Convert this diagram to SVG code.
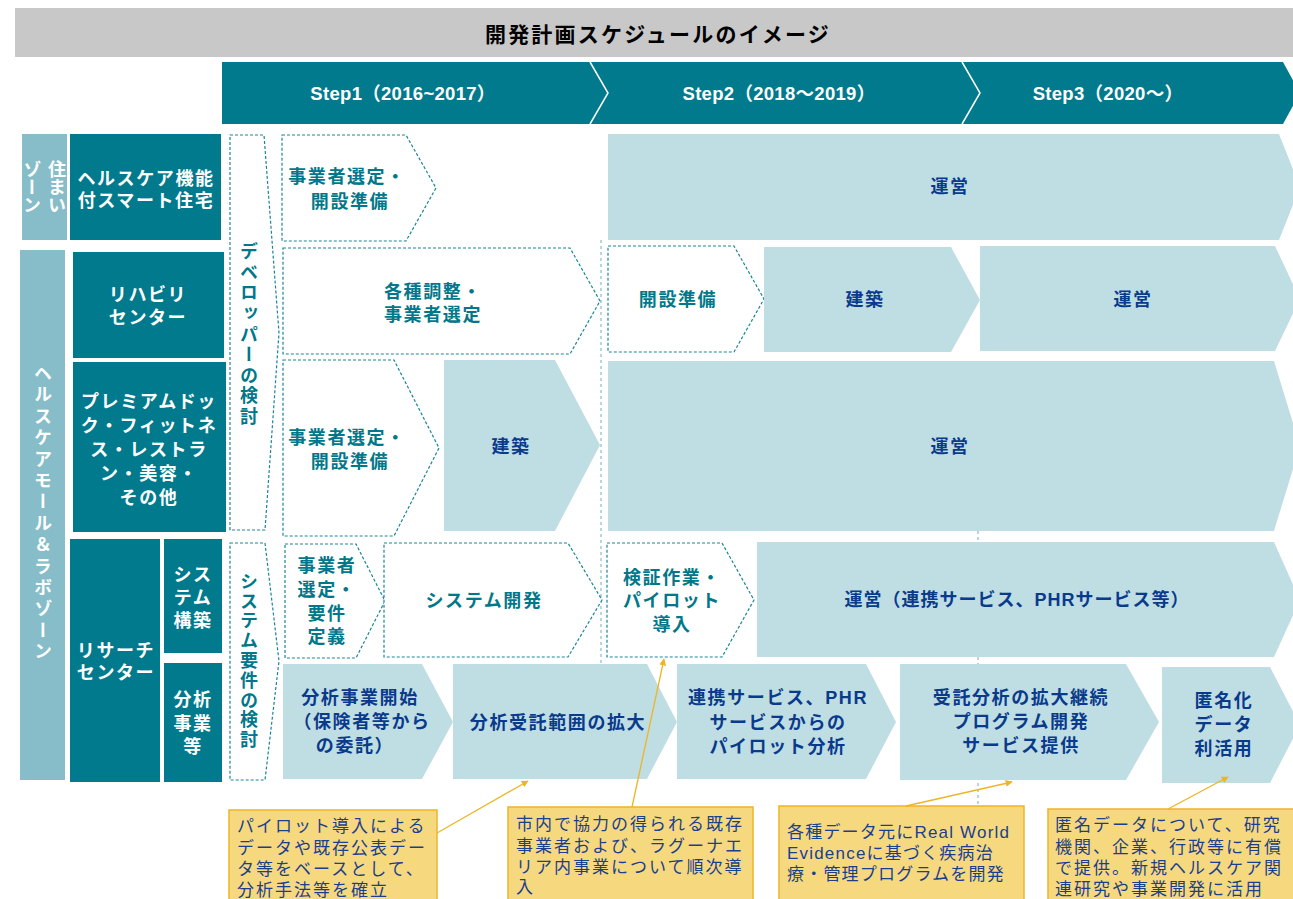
<svg xmlns="http://www.w3.org/2000/svg" width="1293" height="899" viewBox="0 0 1293 899">
<defs>
<style>
.dk{fill:#007A8C}
.side{fill:#86BDC8}
.lt{fill:#BFDEE3}
.dash{fill:#fff;stroke:#1A8596;stroke-width:1.2;stroke-dasharray:3 2}
.call{fill:#F6D97F;stroke:#EDB526;stroke-width:1.5}
.guide{stroke:#86BDC8;stroke-width:1.2;stroke-dasharray:3 3;fill:none}
.lead{stroke:#EDB526;stroke-width:1.3;fill:none}
text{font-family:'Liberation Sans','Noto Sans CJK JP',sans-serif}
.b{font-weight:700;font-size:18px;letter-spacing:1.6px;text-anchor:middle;dominant-baseline:central}
.w{fill:#fff}
.t{fill:#00788A}
.n{fill:#0A3A8C}
.st{font-size:18.5px;letter-spacing:0.3px}
.v{writing-mode:vertical-rl;font-family:'Noto Sans CJK JP',sans-serif;font-weight:700;font-size:18px;text-anchor:middle}
.ct{fill:#1B3F8C;font-size:17px;letter-spacing:2px;dominant-baseline:central;font-family:'Liberation Sans','Noto Sans CJK JP',sans-serif}
</style>
<marker id="ah" viewBox="0 0 10 10" refX="9" refY="5" markerWidth="7" markerHeight="7" markerUnits="userSpaceOnUse" orient="auto">
<path d="M0,0 L10,5 L0,10 z" fill="#EDB526"/>
</marker>
</defs>
<rect width="1293" height="899" fill="#fff"/>

<g id="title">
<rect x="15" y="8" width="1278" height="49" fill="#C8C8C9"/>
<text x="658" y="33" style="font-family:'Noto Sans CJK JP',sans-serif;font-weight:700;font-size:21px;letter-spacing:2.2px;text-anchor:middle;dominant-baseline:central;fill:#000">開発計画スケジュールのイメージ</text>
</g>

<g id="steps">
<polygon class="dk" points="222,62 1283,62 1300,93 1283,124 222,124"/>
<polyline points="590,62 608,93 590,124" fill="none" stroke="#fff" stroke-width="1.5"/>
<polyline points="962,62 980,93 962,124" fill="none" stroke="#fff" stroke-width="1.5"/>
<text class="b w st" x="403" y="93">Step1（2016~2017）</text>
<text class="b w st" x="779" y="93">Step2（2018～2019）</text>
<text class="b w st" x="1108" y="93">Step3（2020～）</text>
</g>

<g id="guides">
<line class="guide" x1="601" y1="240" x2="601" y2="664"/>
<line class="guide" x1="978" y1="531" x2="978" y2="806"/>
</g>

<g id="zone-sumai">
<rect class="side" x="22" y="134" width="45" height="106"/>
<text class="v w" x="57" y="187">住まい</text>
<text class="v w" x="32" y="187">ゾーン</text>
</g>
<g id="zone-mall">
<rect class="side" x="20" y="250" width="45" height="530"/>
<text class="v w" x="43" y="514" style="letter-spacing:3.4px">ヘルスケアモール＆ラボゾーン</text>
</g>
<g id="lbl-house">
<rect class="dk" x="70" y="134" width="151" height="106"/>
<text class="b w"><tspan x="146" y="179">ヘルスケア機能</tspan><tspan x="146" y="201">付スマート住宅</tspan></text>
</g>
<g id="lbl-rehab">
<rect class="dk" x="73" y="252" width="151" height="106"/>
<text class="b w"><tspan x="148" y="295">リハビリ</tspan><tspan x="148" y="318">センター</tspan></text>
</g>
<g id="lbl-premium">
<rect class="dk" x="73" y="362" width="153" height="170"/>
<text class="b w"><tspan x="149" y="402">プレミアムドッ</tspan><tspan x="149" y="426">ク・フィットネ</tspan><tspan x="149" y="450">ス・レストラ</tspan><tspan x="149" y="474">ン・美容・</tspan><tspan x="149" y="498">その他</tspan></text>
</g>
<g id="lbl-research">
<rect class="dk" x="70" y="539" width="90" height="243"/>
<text class="b w"><tspan x="116" y="651">リサーチ</tspan><tspan x="116" y="673">センター</tspan></text>
</g>
<g id="lbl-system">
<rect class="dk" x="164" y="539" width="58" height="114"/>
<text class="b w"><tspan x="193" y="575">シス</tspan><tspan x="193" y="598">テム</tspan><tspan x="193" y="621">構築</tspan></text>
</g>
<g id="lbl-analysis">
<rect class="dk" x="164" y="663" width="58" height="119"/>
<text class="b w"><tspan x="193" y="700">分析</tspan><tspan x="193" y="724">事業</tspan><tspan x="193" y="747">等</tspan></text>
</g>

<g id="dev-review">
<polygon class="dash" points="230,135 264,135 279,333 265,530 230,530"/>
<text class="v t" x="249" y="335" style="letter-spacing:2.6px">デベロッパーの検討</text>
</g>
<g id="sys-review">
<polygon class="dash" points="230,543 265,543 279,661 265,780 230,780"/>
<text class="v t" x="249" y="661" style="letter-spacing:1.8px">システム要件の検討</text>
</g>

<g id="r1-select">
<polygon class="dash" points="282,135 406,135 436,188 406,241 282,241"/>
<text class="b t"><tspan x="347" y="177">事業者選定・</tspan><tspan x="350" y="202">開設準備</tspan></text>
</g>
<g id="r1-ops">
<polygon class="lt" points="608,134 1279,134 1300,187 1279,240 608,240"/>
<text class="b n" x="950" y="187">運営</text>
</g>

<g id="r2-adjust">
<polygon class="dash" points="283,248 570,248 600,301 570,354 283,354"/>
<text class="b t"><tspan x="433" y="292">各種調整・</tspan><tspan x="433" y="315">事業者選定</tspan></text>
</g>
<g id="r2-prep">
<polygon class="dash" points="608,246 734,246 764,299 734,352 608,352"/>
<text class="b t" x="678" y="300">開設準備</text>
</g>
<g id="r2-build">
<polygon class="lt" points="764,247 951,247 980,300 951,352 764,352"/>
<text class="b n" x="865" y="300">建築</text>
</g>
<g id="r2-ops">
<polygon class="lt" points="980,246 1275,246 1300,299 1275,351 980,351"/>
<text class="b n" x="1133" y="300">運営</text>
</g>

<g id="r3-select">
<polygon class="dash" points="283,360 394,360 439,448 394,536 283,536"/>
<text class="b t"><tspan x="347" y="438">事業者選定・</tspan><tspan x="350" y="462">開設準備</tspan></text>
</g>
<g id="r3-build">
<polygon class="lt" points="444,360 555,360 600,445 555,531 444,531"/>
<text class="b n" x="511" y="447">建築</text>
</g>
<g id="r3-ops">
<polygon class="lt" points="608,361 1274,361 1300,446 1274,531 608,531"/>
<text class="b n" x="950" y="447">運営</text>
</g>

<g id="r4-select">
<polygon class="dash" points="285,544 356,544 385,601 356,658 285,658"/>
<text class="b t"><tspan x="327" y="566">事業者</tspan><tspan x="327" y="590">選定・</tspan><tspan x="327" y="614">要件</tspan><tspan x="327" y="637">定義</tspan></text>
</g>
<g id="r4-dev">
<polygon class="dash" points="384,543 568,543 602,600 568,657 384,657"/>
<text class="b t" x="484" y="601">システム開発</text>
</g>
<g id="r4-verify">
<polygon class="dash" points="607,543 722,543 754,600 722,657 607,657"/>
<text class="b t"><tspan x="672" y="578">検証作業・</tspan><tspan x="672" y="601">パイロット</tspan><tspan x="672" y="625">導入</tspan></text>
</g>
<g id="r4-ops">
<polygon class="lt" points="757,542 1274,542 1300,600 1274,657 757,657"/>
<text class="b n" x="1017" y="600" style="letter-spacing:1px">運営（連携サービス、PHRサービス等）</text>
</g>

<g id="r5-start">
<polygon class="lt" points="283,664 422,664 453,722 422,779 283,779"/>
<text class="b n"><tspan x="360" y="698">分析事業開始</tspan><tspan x="362" y="722">（保険者等から</tspan><tspan x="355" y="746">の委託）</tspan></text>
</g>
<g id="r5-expand">
<polygon class="lt" points="453,664 647,664 677,722 647,779 453,779"/>
<text class="b n" x="558" y="723">分析受託範囲の拡大</text>
</g>
<g id="r5-pilot">
<polygon class="lt" points="677,664 866,664 896,722 866,779 677,779"/>
<text class="b n"><tspan x="778" y="698">連携サービス、PHR</tspan><tspan x="778" y="723">サービスからの</tspan><tspan x="778" y="747">パイロット分析</tspan></text>
</g>
<g id="r5-program">
<polygon class="lt" points="900,664 1126,664 1159,722 1126,780 900,780"/>
<text class="b n"><tspan x="1021" y="698">受託分析の拡大継続</tspan><tspan x="1021" y="722">プログラム開発</tspan><tspan x="1021" y="746">サービス提供</tspan></text>
</g>
<g id="r5-anon">
<polygon class="lt" points="1162,667 1270,667 1300,725 1270,783 1162,783"/>
<text class="b n"><tspan x="1224" y="701">匿名化</tspan><tspan x="1224" y="725">データ</tspan><tspan x="1224" y="749">利活用</tspan></text>
</g>

<g id="note1">
<rect class="call" x="229" y="810" width="208" height="100"/>
<text class="ct"><tspan x="237" y="826">パイロット導入による</tspan><tspan x="237" y="848">データや既存公表デー</tspan><tspan x="237" y="869">タ等をベースとして、</tspan><tspan x="237" y="890">分析手法等を確立</tspan></text>
</g>
<g id="note2">
<rect class="call" x="508" y="807" width="245" height="100"/>
<text class="ct"><tspan x="516" y="824">市内で協力の得られる既存</tspan><tspan x="516" y="846">事業者および、ラグーナエ</tspan><tspan x="516" y="867">リア内事業について順次導</tspan><tspan x="516" y="887">入</tspan></text>
</g>
<g id="note3">
<rect class="call" x="779" y="806" width="245" height="100"/>
<text class="ct" style="letter-spacing:1.2px"><tspan x="787" y="832">各種データ元にReal World</tspan><tspan x="787" y="853">Evidenceに基づく疾病治</tspan><tspan x="787" y="874">療・管理プログラムを開発</tspan></text>
</g>
<g id="note4">
<rect class="call" x="1048" y="809" width="260" height="100"/>
<text class="ct"><tspan x="1055" y="825">匿名データについて、研究</tspan><tspan x="1055" y="847">機関、企業、行政等に有償</tspan><tspan x="1055" y="868">で提供。新規ヘルスケア関</tspan><tspan x="1055" y="889">連研究や事業開発に活用</tspan></text>
</g>

<g id="connectors">
<line class="lead" x1="437" y1="833" x2="528" y2="781" marker-end="url(#ah)"/>
<line class="lead" x1="632" y1="807" x2="664" y2="659" marker-end="url(#ah)"/>
<line class="lead" x1="906" y1="806" x2="1012" y2="782" marker-end="url(#ah)"/>
<line class="lead" x1="1168" y1="809" x2="1228" y2="777" marker-end="url(#ah)"/>
</g>
</svg>
